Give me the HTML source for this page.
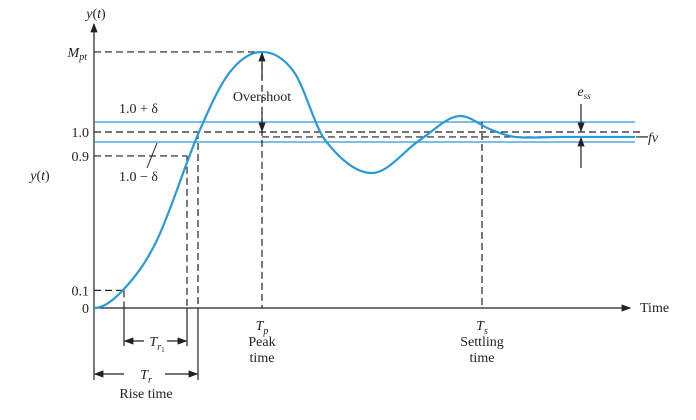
<!DOCTYPE html>
<html><head><meta charset="utf-8"><style>
html,body{margin:0;padding:0;background:#fff;width:696px;height:420px;overflow:hidden}
svg{display:block}
text{font-family:"Liberation Serif",serif;fill:#222;font-size:14px}
.it{font-style:italic}
</style></head><body>
<svg id="chart" width="696" height="420" viewBox="0 0 696 420">
<defs>
<marker id="ah" markerWidth="8" markerHeight="8" refX="7" refY="4" orient="auto"><path d="M0,1 L8,4 L0,7 z" fill="#222"/></marker>
</defs>
<g id="g-guides"></g>
<g id="g-curve"></g>
<g id="g-labels"></g>
</svg>
<script>
// Data (time in arbitrary units, value normalized, 1.0 = final reference)
const curveT = [0,0.30,0.63,1.05,1.36,1.68,2.00,2.31,2.78,3.26,3.64,3.98,4.21,4.66,5.41];
const curveV = [0,0.108,0.386,1.0,1.341,1.455,1.341,0.955,0.767,0.955,1.09,1.011,0.972,0.972,0.972];
const tickValues = [0,0.1,0.864,1.0,1.455];
const tickLabels = ["0","0.1","0.9","1.0","M"];
const delta = 0.057;
const finalValue = 0.972;
const tRise1 = 0.30, tRise2 = 0.93, tRise = 1.04, tPeak = 1.68, tSettle = 3.88;

const sx = t => 94 + t*100;
const sy = v => 308 - v*176;
const NS = "http://www.w3.org/2000/svg";
function mk(parent, tag, attrs, txt){
  const e=document.createElementNS(NS,tag);
  for(const k in attrs) e.setAttribute(k,attrs[k]);
  if(txt!==undefined) e.textContent=txt;
  parent.appendChild(e); return e;
}
const G=document.getElementById('g-guides'), C=document.getElementById('g-curve'), L=document.getElementById('g-labels');
const dash={stroke:"#222","stroke-width":1.2,"stroke-dasharray":"7,4",fill:"none"};
const solid={stroke:"#222","stroke-width":1.2,fill:"none"};
function line(p,x1,y1,x2,y2,st,name){
  const e=mk(p,'line',Object.assign({x1,y1,x2,y2},st));
  
  
  return e;
}
// Axes
line(G,sx(0),sy(0),630,sy(0),Object.assign({"marker-end":"url(#ah)"},solid),'x-axis');
line(G,sx(0),sy(0),sx(0),24,Object.assign({"marker-end":"url(#ah)"},solid),'y-axis');
// Tolerance band
line(G,sx(0),sy(1+delta),635,sy(1+delta),{stroke:"#2a9ad6","stroke-width":1.3},'upper-band-line');
line(G,sx(0),sy(1-delta),635,sy(1-delta),{stroke:"#2a9ad6","stroke-width":1.3},'lower-band-line');
// Horizontal dashed guides
line(G,sx(0),sy(1),640,sy(1),dash,'reference-line');
line(G,sx(tPeak),sy(finalValue),640,sy(finalValue),dash,'final-value-line');
line(G,sx(0),sy(tickValues[4]),sx(tPeak),sy(tickValues[4]),dash,'peak-guide');
line(G,sx(0),sy(0.864),sx(tRise2),sy(0.864),dash,'ninety-guide');
line(G,sx(0),sy(0.1),sx(tRise1),sy(0.1),dash,'ten-guide');
// Vertical dashed guides
line(G,sx(tRise1),sy(0.1),sx(tRise1),sy(0),dash,'t10-guide');
line(G,sx(tRise2),sy(0.864),sx(tRise2),sy(0),dash,'t90-guide');
line(G,sx(tRise),sy(1),sx(tRise),sy(0),dash,'t100-guide');
line(G,sx(tPeak),sy(tickValues[4]),sx(tPeak),sy(0),dash,'peak-time-guide');
line(G,sx(tSettle),sy(1+delta),sx(tSettle),sy(0),dash,'settling-time-guide');
// Below-axis solid verticals
line(G,sx(0),sy(0),sx(0),380,solid,'tr-left-tick');
line(G,sx(tRise),sy(0),sx(tRise),380,solid,'tr-right-tick');
line(G,sx(tRise1),sy(0),sx(tRise1),346,solid,'tr1-left-tick');
line(G,sx(tRise2),sy(0),sx(tRise2),346,solid,'tr1-right-tick');
// Rise time arrows
line(G,sx(tRise1)+20,341,sx(tRise1)+1,341,Object.assign({"marker-end":"url(#ah)"},solid),'tr1-arrow-left');
line(G,sx(tRise2)-20,341,sx(tRise2)-1,341,Object.assign({"marker-end":"url(#ah)"},solid),'tr1-arrow-right');
line(G,sx(0)+30,374,sx(0)+1,374,Object.assign({"marker-end":"url(#ah)"},solid),'tr-arrow-left');
line(G,sx(tRise)-33,374,sx(tRise)-1,374,Object.assign({"marker-end":"url(#ah)"},solid),'tr-arrow-right');
// Overshoot arrows
line(G,sx(tPeak),80,sx(tPeak),sy(tickValues[4])+1,Object.assign({"marker-end":"url(#ah)"},solid),'overshoot-arrow-up');
line(G,sx(tPeak),112,sx(tPeak),sy(1)-1,Object.assign({"marker-end":"url(#ah)"},solid),'overshoot-arrow-down');
// ess arrows
line(G,581,104,581,sy(1)-1,Object.assign({"marker-end":"url(#ah)"},solid),'ess-arrow-down');
line(G,581,168,581,sy(finalValue)+1,Object.assign({"marker-end":"url(#ah)"},solid),'ess-arrow-up');
// fv tick and delta leader
line(G,640,sy(finalValue),648,sy(finalValue),solid,'fv-leader');
line(G,157,143,147,168,{stroke:"#222","stroke-width":1},'delta-leader');

// Curve (cubic Hermite in x)
const pts=curveT.map((t,i)=>[sx(t),sy(curveV[i])]);
const n=pts.length;
const m=pts.map((p,i)=>{
  if(i===0||i===n-1) return 0;
  return (pts[i+1][1]-pts[i-1][1])/(pts[i+1][0]-pts[i-1][0]);
});
let d=`M${pts[0][0]},${pts[0][1]}`;
for(let i=0;i<n-1;i++){
  const p1=pts[i],p2=pts[i+1],dx=(p2[0]-p1[0])/3;
  d+=` C${p1[0]+dx},${p1[1]+m[i]*dx} ${p2[0]-dx},${p2[1]-m[i+1]*dx} ${p2[0]},${p2[1]}`;
}
const path=mk(C,'path',{d,stroke:"#2a9ad6","stroke-width":2.2,fill:"none"});



// Tick labels
tickValues.forEach((v,i)=>{
  if(i===4){
    const t=mk(L,'text',{x:87,y:sy(v)+5,"text-anchor":"end",class:"it"});
    t.innerHTML='M<tspan font-size="10" dy="3">pt</tspan>';
    
    
  } else {
    const t=mk(L,'text',{x:89,y:sy(v)+5,"text-anchor":"end"},tickLabels[i]);
    
    
  }
});
function lbl(x,y,html,name,anchor,cls){
  const t=mk(L,'text',{x,y,"text-anchor":anchor||"middle"});
  if(cls) t.setAttribute('class',cls);
  t.innerHTML=html;
  
  
}
lbl(96,18,'<tspan font-style="italic">y</tspan>(<tspan font-style="italic">t</tspan>)','y-axis-title');
lbl(40,180,'<tspan font-style="italic">y</tspan>(<tspan font-style="italic">t</tspan>)','y-axis-side-label');
lbl(640,312,'Time','x-axis-title','start');
lbl(119,113,'1.0 + δ','upper-band-label','start');
lbl(119,181,'1.0 − δ','lower-band-label','start');
lbl(262,101,'Overshoot','overshoot-label');
lbl(584,96,'e<tspan font-size="9" dy="3">ss</tspan>','ess-label','middle','it');
lbl(648,142,'fv','fv-label','start','it');
lbl(sx(tPeak),330,'T<tspan font-size="10" dy="4">p</tspan>','tp-label','middle','it');
lbl(sx(tPeak),346,'Peak','peak-label');
lbl(sx(tPeak),362,'time','peak-time-label');
lbl(sx(tSettle),330,'T<tspan font-size="10" dy="4">s</tspan>','ts-label','middle','it');
lbl(sx(tSettle),346,'Settling','settling-label');
lbl(sx(tSettle),362,'time','settling-time-label');
lbl(157,346,'T<tspan font-size="10" dy="4">r</tspan><tspan font-size="7" dy="2" font-style="normal">1</tspan>','tr1-label','middle','it');
lbl(146,379,'T<tspan font-size="10" dy="4">r</tspan>','tr-label','middle','it');
lbl(146,398,'Rise time','rise-time-label');
</script>
</body></html>
